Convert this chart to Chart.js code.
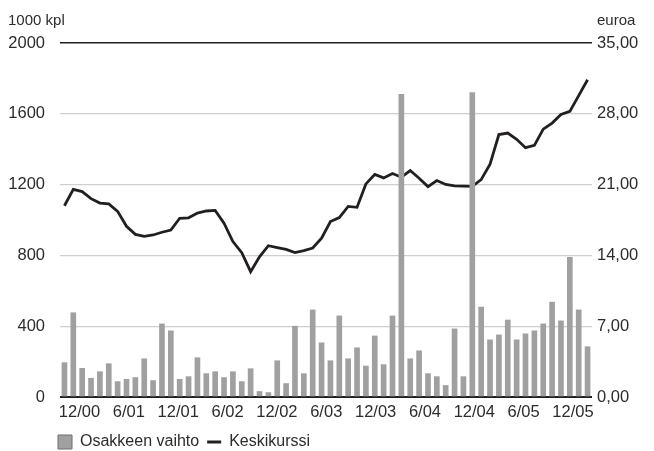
<!DOCTYPE html>
<html>
<head>
<meta charset="utf-8">
<title>Osakkeen vaihto ja keskikurssi</title>
<script src="https://cdn.jsdelivr.net/npm/chart.js@4.4.1/dist/chart.umd.min.js"></script>
<style>
	html, body { margin: 0; padding: 0; background: #fff; }
</style>
</head>
<body>
<canvas id="chart" width="654" height="451"></canvas>
<script>
const months = [
	'12/00', '1/01', '2/01', '3/01', '4/01', '5/01', '6/01', '7/01', '8/01', '9/01', '10/01', '11/01',
	'12/01', '1/02', '2/02', '3/02', '4/02', '5/02', '6/02', '7/02', '8/02', '9/02', '10/02', '11/02',
	'12/02', '1/03', '2/03', '3/03', '4/03', '5/03', '6/03', '7/03', '8/03', '9/03', '10/03', '11/03',
	'12/03', '1/04', '2/04', '3/04', '4/04', '5/04', '6/04', '7/04', '8/04', '9/04', '10/04', '11/04',
	'12/04', '1/05', '2/05', '3/05', '4/05', '5/05', '6/05', '7/05', '8/05', '9/05', '10/05', '11/05',
];

// osakkeen vaihto, 1000 kpl
const volume = [
	194, 476, 162, 106, 143, 188, 87, 100, 110, 216, 93, 413,
	374, 100, 115, 222, 132, 143, 110, 143, 87, 160, 31, 25,
	205, 76, 400, 132, 492, 306, 205, 458, 216, 278, 175, 345,
	183, 458, 1710, 216, 261, 132, 115, 65, 385, 115, 1720, 508,
	323, 351, 435, 323, 357, 374, 413, 536, 430, 789, 492, 284,
];

// keskikurssi, euroa
const price = [
	18.91, 20.52, 20.31, 19.61, 19.17, 19.09, 18.36, 16.88, 16.08, 15.88, 16.02, 16.29,
	16.50, 17.67, 17.72, 18.19, 18.39, 18.45, 17.19, 15.37, 14.27, 12.39, 13.86, 14.96,
	14.78, 14.60, 14.28, 14.48, 14.73, 15.70, 17.35, 17.74, 18.84, 18.75, 21.07, 22.00,
	21.66, 22.09, 21.73, 22.39, 21.63, 20.80, 21.40, 21.01, 20.87, 20.85, 20.82, 21.49,
	23.02, 25.95, 26.10, 25.48, 24.65, 24.88, 26.48, 27.08, 27.93, 28.24, 29.80, 31.37,
];

const xTickLabels = ['12/00', '6/01', '12/01', '6/02', '12/02', '6/03', '12/03', '6/04', '12/04', '6/05', '12/05'];
const seriesNames = ['Osakkeen vaihto', 'Keskikurssi'];
const axisUnits = ['1000 kpl', 'euroa'];

const fontFamily = '"Liberation Sans", Arial, sans-serif';
const textColor = '#2e2b2b';
const barColor = '#a0a0a0';
const lineColor = '#231f20';
const gridColor = '#cfcfcf';

Chart.defaults.font.family = fontFamily;
Chart.defaults.color = textColor;

const axisTitles = {
	id: 'axisTitles',
	afterDraw(chart) {
		const ctx = chart.ctx;
		ctx.save();
		ctx.font = `15px ${fontFamily}`;
		ctx.fillStyle = textColor;
		ctx.textBaseline = 'middle';
		ctx.textAlign = 'left';
		ctx.fillText(axisUnits[0], 8, 21);
		ctx.fillText(axisUnits[1], chart.scales.y1.left + 5, 21);
		ctx.restore();
	},
};

// line the legend up with the left edge of the plot
const legendUnderPlot = {
	id: 'legendUnderPlot',
	afterLayout(chart) {
		const shift = chart.chartArea.left - 10;
		chart.legend.left += shift;
		chart.legend.right += shift;
	},
};

function gridStyle(value, top, bottom, other) {
	if (value === 2000) return top;
	if (value === 0) return bottom;
	return other;
}

new Chart(document.getElementById('chart'), {
	data: {
		labels: months,
		datasets: [
			{
				type: 'bar',
				label: seriesNames[0],
				data: volume,
				backgroundColor: barColor,
				borderWidth: 0,
				barThickness: 5,
				yAxisID: 'y',
				xAxisID: 'x',
				order: 0,
			},
			{
				type: 'line',
				label: seriesNames[1],
				data: price,
				borderColor: lineColor,
				borderWidth: 2.8,
				pointRadius: 0,
				tension: 0,
				yAxisID: 'y1',
				xAxisID: 'x',
				order: 1,
			},
		],
	},
	options: {
		responsive: false,
		animation: false,
		devicePixelRatio: 1,
		layout: {
			padding: { top: 43, left: 0, right: 0, bottom: -9 },
		},
		plugins: {
			tooltip: { enabled: false },
			legend: {
				position: 'bottom',
				align: 'start',
				labels: {
					usePointStyle: true,
					boxWidth: 14,
					boxHeight: 14,
					pointStyleWidth: 14,
					padding: 8,
					font: { size: 16 },
					color: textColor,
					generateLabels(chart) {
						return chart.data.datasets.map((dataset, index) => ({
							text: dataset.label,
							datasetIndex: index,
							pointStyle: dataset.type === 'bar' ? 'rect' : 'line',
							fillStyle: dataset.type === 'bar' ? barColor : lineColor,
							strokeStyle: dataset.type === 'bar' ? '#6e6e6e' : lineColor,
							lineWidth: dataset.type === 'bar' ? 1 : 3,
							fontColor: textColor,
						}));
					},
				},
			},
		},
		scales: {
			x: {
				type: 'category',
				display: false,
				offset: true,
			},
			xLabels: {
				type: 'linear',
				position: 'bottom',
				min: -0.395,
				max: 10.385,
				afterFit(scale) {
					scale.height = 29;
				},
				grid: { display: false, drawTicks: false },
				border: { display: false },
				ticks: {
					stepSize: 1,
					includeBounds: false,
					autoSkip: false,
					maxRotation: 0,
					padding: 6,
					font: { size: 16.5 },
					color: textColor,
					callback: (value) => xTickLabels[value] ?? '',
				},
			},
			y: {
				position: 'left',
				min: 0,
				max: 2000,
				afterFit(scale) {
					scale.width = 60;
				},
				border: { display: false },
				grid: {
					drawTicks: false,
					color: (ctx) => gridStyle(ctx.tick.value, lineColor, lineColor, gridColor),
					lineWidth: (ctx) => gridStyle(ctx.tick.value, 1.6, 2, 1.2),
				},
				ticks: {
					stepSize: 400,
					padding: 15,
					font: { size: 16.5 },
					color: textColor,
					callback: (value) => String(value),
				},
			},
			y1: {
				position: 'right',
				min: 0,
				max: 35,
				afterFit(scale) {
					scale.width = 62;
				},
				border: { display: false },
				grid: { display: false, drawTicks: false },
				ticks: {
					stepSize: 7,
					padding: 5,
					font: { size: 16.5 },
					color: textColor,
					callback: (value) => value.toFixed(2).replace('.', ','),
				},
			},
		},
	},
	plugins: [axisTitles, legendUnderPlot],
});
</script>
</body>
</html>
